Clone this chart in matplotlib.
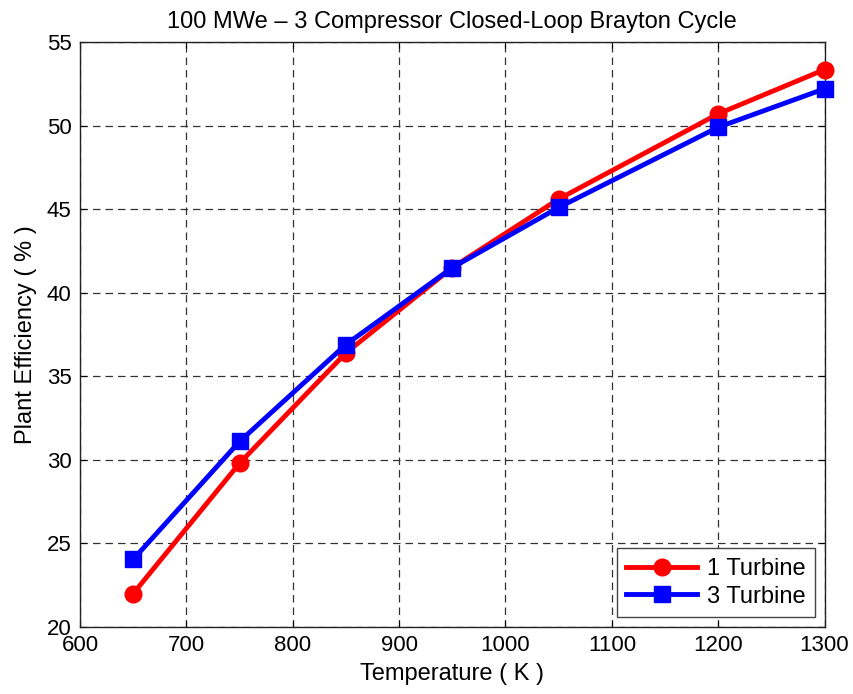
import matplotlib
matplotlib.use("Agg")
import matplotlib.pyplot as plt

temps = [650, 750, 850, 950, 1050, 1200, 1300]
eff_1turbine = [22.0, 29.8, 36.4, 41.5, 45.6, 50.7, 53.35]
eff_3turbine = [24.05, 31.1, 36.9, 41.5, 45.1, 49.9, 52.2]
xticks = [600, 700, 800, 900, 1000, 1100, 1200, 1300]
yticks = [20, 25, 30, 35, 40, 45, 50, 55]

plt.rcParams['font.family'] = ['Liberation Sans', 'DejaVu Sans']

fig = plt.figure(figsize=(8.54, 6.94), dpi=100)
ax = fig.add_axes([0.0937, 0.0965, 0.8718, 0.843])
ax.plot(temps, eff_1turbine, color='#ff0000', lw=3.5, marker='o', ms=12,
        label='1 Turbine', zorder=3, clip_on=False)
ax.plot(temps, eff_3turbine, color='#0000ff', lw=3.5, marker='s', ms=11.5,
        label='3 Turbine', zorder=3, clip_on=False)
ax.set_xlim(600, 1300)
ax.set_ylim(20, 55)
ax.set_xticks(xticks)
ax.set_yticks(yticks)
ax.tick_params(labelsize=16, direction='in', length=4, top=True, right=True, pad=6)
ax.grid(True, color='#333333', linestyle=(0, (6, 4)), linewidth=0.9)
for s in ax.spines.values():
    s.set_linewidth(1.0)
    s.set_color('#222222')
ax.set_xlabel('Temperature ( K )', fontsize=17, labelpad=5)
ax.set_ylabel('Plant Efficiency ( % )', fontsize=17, labelpad=7)
ax.set_title('100 MWe – 3 Compressor Closed-Loop Brayton Cycle', fontsize=17, pad=10)
leg = ax.legend(loc='lower right', fontsize=17, fancybox=False, edgecolor='#444444',
                framealpha=1, handlelength=3.0, handletextpad=0.4,
                borderaxespad=0.42, borderpad=0.4, labelspacing=0.25)
leg.get_frame().set_linewidth(1.0)
fig.savefig('out.png', dpi=100)
